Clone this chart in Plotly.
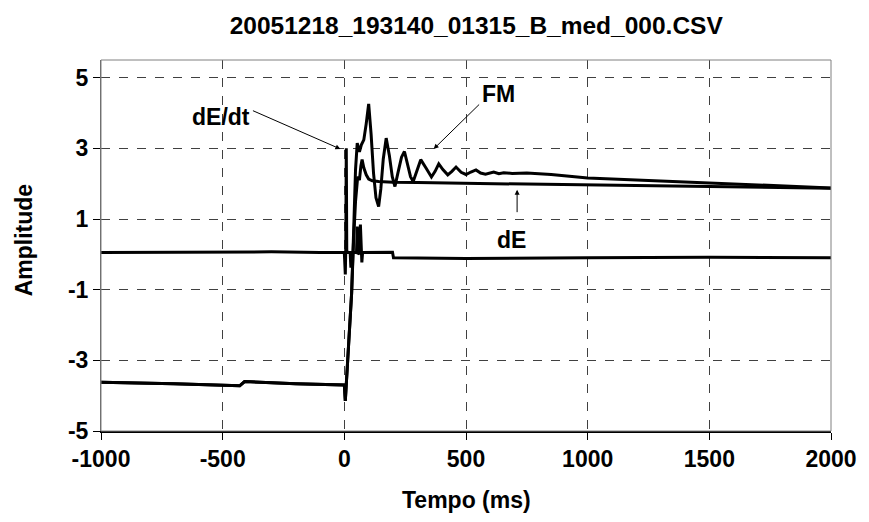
import plotly.graph_objects as go

# ---- data ----
t_dedt = [-1000, -600, -300, -100, 0, 4, 6, 8, 10, 14, 24, 27, 30, 50, 53, 56, 63, 66, 69, 72, 75, 90, 150, 198, 202, 500, 1000, 1500, 2000]
v_dedt = [0.05, 0.06, 0.07, 0.05, 0.05, -0.57, 0.2, 3.0, 0.1, 0.05, 0.05, -0.38, 0.05, 0.05, 0.79, 0.0, 0.05, 0.84, 0.0, -0.23, 0.05, 0.05, 0.06, 0.06, -0.1, -0.12, -0.1, -0.08, -0.1]

t_de = [-1000, -700, -430, -410, -200, -5, 0, 4, 10, 20, 30, 38, 46, 55, 62, 68, 73, 80, 90, 100, 115, 141, 200, 300, 420, 600, 800, 1000, 1250, 1500, 1750, 2000]
v_de = [-3.62, -3.66, -3.72, -3.6, -3.66, -3.68, -3.7, -4.15, -3.5, -2.3, -1.1, 0.4, 1.5, 2.2, 2.1, 2.5, 2.68, 2.45, 2.25, 2.13, 2.08, 2.06, 2.04, 2.03, 2.02, 2.0, 1.98, 1.97, 1.94, 1.92, 1.9, 1.87]

t_fm = [-1000, -700, -430, -410, -200, -5, 0, 4, 10, 20, 30, 38, 46, 53, 62, 70, 80, 90, 100, 110, 120, 130, 141, 150, 160, 172, 185, 197, 208, 220, 235, 247, 260, 272, 283, 298, 314, 335, 358, 373, 388, 405, 425, 442, 459, 480, 500, 520, 541, 560, 580, 614, 635, 655, 690, 750, 850, 1000, 1250, 1500, 1750, 2000]
v_fm = [-3.62, -3.66, -3.72, -3.6, -3.66, -3.68, -3.7, -4.15, -3.5, -2.3, -1.1, 0.6, 2.4, 3.15, 2.9, 3.1, 3.24, 3.7, 4.26, 3.4, 2.3, 1.6, 1.35, 1.85, 2.7, 3.29, 2.8, 2.2, 1.92, 2.3, 2.75, 2.91, 2.5, 2.2, 2.06, 2.35, 2.68, 2.45, 2.19, 2.35, 2.56, 2.4, 2.25, 2.35, 2.47, 2.32, 2.26, 2.33, 2.39, 2.3, 2.27, 2.33, 2.28, 2.31, 2.29, 2.3, 2.26, 2.16, 2.09, 2.03, 1.95, 1.88]

x_ticks = [-1000, -500, 0, 500, 1000, 1500, 2000]
y_ticks = [-5, -3, -1, 1, 3, 5]

title_text = "20051218_193140_01315_B_med_000.CSV"
x_title = "Tempo (ms)"
y_title = "Amplitude"

FONT = "Liberation Sans, Arial, sans-serif"
BOLD = dict(family=FONT, size=23, color="black", weight="bold")

fig = go.Figure()
fig.add_trace(go.Scatter(x=t_dedt, y=v_dedt, mode="lines", line=dict(color="black", width=3), name="dE/dt"))
fig.add_trace(go.Scatter(x=t_de, y=v_de, mode="lines", line=dict(color="black", width=3), name="dE"))
fig.add_trace(go.Scatter(x=t_fm, y=v_fm, mode="lines", line=dict(color="black", width=3), name="FM"))

# plot border
fig.add_shape(type="rect", xref="paper", yref="paper", x0=0, y0=0, x1=1, y1=1,
              line=dict(color="#808080", width=1), layer="above")

# arrows
fig.add_annotation(x=-16, y=2.98, ax=-89, ay=-39, text="", showarrow=True,
                   arrowhead=2, arrowsize=1, arrowwidth=1, arrowcolor="black")
fig.add_annotation(x=367, y=2.98, ax=47, ay=-46, text="", showarrow=True,
                   arrowhead=2, arrowsize=1, arrowwidth=1, arrowcolor="black")
fig.add_annotation(x=710, y=1.83, ax=0, ay=24, text="", showarrow=True,
                   arrowhead=2, arrowsize=1, arrowwidth=1, arrowcolor="black")
# labels
fig.add_annotation(x=-508, y=3.89, text="dE/dt", showarrow=False, font=BOLD,
                   xanchor="center", yanchor="middle")
fig.add_annotation(x=632, y=4.55, text="FM", showarrow=False, font=BOLD,
                   xanchor="center", yanchor="middle")
fig.add_annotation(x=687, y=0.41, text="dE", showarrow=False, font=BOLD,
                   xanchor="center", yanchor="middle")

# axis titles
fig.add_annotation(xref="paper", yref="paper", x=-0.105, y=0.515, text=y_title,
                   textangle=-90, showarrow=False, font=BOLD, xanchor="center", yanchor="middle")
fig.add_annotation(xref="paper", yref="paper", x=0.5, y=-0.186, text=x_title,
                   showarrow=False, font=BOLD, xanchor="center", yanchor="middle")

fig.update_layout(
    width=869, height=522,
    margin=dict(l=101, r=30, t=60, b=91),
    paper_bgcolor="white", plot_bgcolor="white",
    showlegend=False,
    title=dict(text=title_text, x=0.548, xanchor="center", y=0.952, yanchor="middle",
               font=dict(family=FONT, size=24.5, color="black", weight="bold")),
)
fig.update_xaxes(range=[-1000, 2000], tickvals=x_ticks, ticktext=[str(v) for v in x_ticks],
                 showgrid=True, gridcolor="#404040", griddash="dash", gridwidth=1,
                 zeroline=False, showline=True, linecolor="black", linewidth=1.5,
                 ticks="outside", ticklen=7, tickcolor="black",
                 tickfont=BOLD)
fig.update_yaxes(range=[-5, 5.5], tickvals=y_ticks, ticktext=[str(v) for v in y_ticks],
                 showgrid=True, gridcolor="#404040", griddash="dash", gridwidth=1,
                 zeroline=False, showline=True, linecolor="#606060", linewidth=1,
                 ticks="outside", ticklen=7, tickcolor="black",
                 tickfont=BOLD)

fig.write_html("out.html")
